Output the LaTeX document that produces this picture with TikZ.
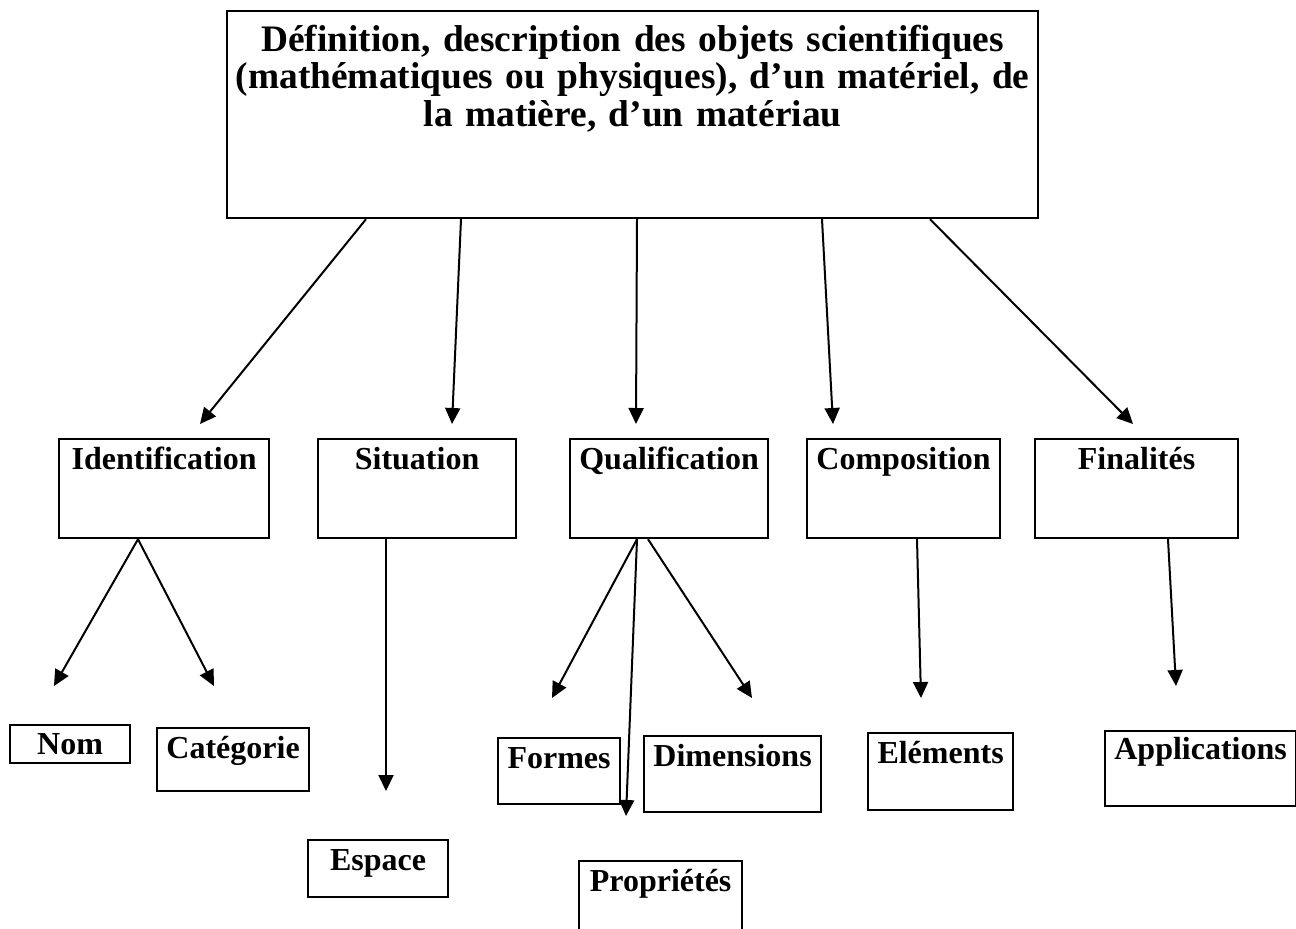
\documentclass[tikz,border=0pt]{standalone}
\usepackage{fontspec}
\setmainfont{Liberation Serif}
\usetikzlibrary{arrows.meta}
\tikzstyle{diagram}=[x=0.5pt, y=-0.5pt]
\tikzstyle{cbox}=[draw, line width=1.1pt, anchor=north west, inner sep=0pt, align=center, font=\fontsize{16}{19}\selectfont\bfseries]
\tikzstyle{head}=[cbox, text width=405.5pt, font=\fontsize{18.7}{18.75}\selectfont\bfseries]
\tikzstyle{edge}=[line width=1pt, -{Triangle[length=8pt, width=7.5pt]}]
\newcommand{\rowY}{438}
\newcommand{\rowTH}{15pt}
\newcommand{\rowTD}{34.5pt}

\begin{document}
\begin{tikzpicture}[diagram]
	\useasboundingbox (0,0) rectangle (1296,928);

	%The main box
	\draw (226,10) node[head, text height=20pt, text depth=83.5pt] (def)
		{Définition, description des objets scientifiques\\(mathématiques ou physiques), d’un matériel, de\\la matière, d’un matériau};

	%The second row
	\draw (58,\rowY) node[cbox, minimum width=105pt, text height=\rowTH, text depth=\rowTD] (ident) {Identification};
	\draw (317,\rowY) node[cbox, minimum width=99pt, text height=\rowTH, text depth=\rowTD] (situ) {Situation};
	\draw (569,\rowY) node[cbox, minimum width=99pt, text height=\rowTH, text depth=\rowTD] (qual) {Qualification};
	\draw (806,\rowY) node[cbox, minimum width=96.5pt, text height=\rowTH, text depth=\rowTD] (comp) {Composition};
	\draw (1034,\rowY) node[cbox, minimum width=101.5pt, text height=\rowTH, text depth=\rowTD] (fin) {Finalités};

	%The leaves
	\draw (9,724) node[cbox, minimum width=60pt, text height=14.5pt, text depth=4.5pt] (nom) {Nom};
	\draw (156,727) node[cbox, minimum width=76pt, text height=15pt, text depth=16.5pt] (cat) {Catégorie};
	\draw (307,839) node[cbox, minimum width=70pt, text height=15pt, text depth=13.5pt] (esp) {Espace};
	\draw (497,737) node[cbox, minimum width=61pt, text height=15pt, text depth=18pt] (form) {Formes};
	\draw (643,735) node[cbox, minimum width=88.5pt, text height=15pt, text depth=23pt] (dim) {Dimensions};
	\draw (578,860) node[cbox, minimum width=81.5pt, text height=15pt, text depth=35pt] (prop) {Propriétés};
	\draw (867,732) node[cbox, minimum width=72.5pt, text height=15pt, text depth=23.5pt] (elem) {Eléments};
	\draw (1104,730) node[cbox, minimum width=95.5pt, text height=14pt, text depth=23.5pt] (app) {Applications};

	%The arrow tips
	\coordinate (ident-in) at (200,424);
	\coordinate (situ-in) at (452,424);
	\coordinate (qual-in) at (636,424);
	\coordinate (comp-in) at (833,424);
	\coordinate (fin-in) at (1133,424);
	\coordinate (nom-in) at (54,686);
	\coordinate (cat-in) at (214,686);
	\coordinate (esp-in) at (386,791);
	\coordinate (form-in) at (552,698);
	\coordinate (prop-in) at (626,816);
	\coordinate (dim-in) at (752,698);
	\coordinate (elem-in) at (921,698);
	\coordinate (app-in) at (1176,686);

	%From the main box
	\draw[edge] (366,0 |- def.south) -- (ident-in);
	\draw[edge] (461,0 |- def.south) -- (situ-in);
	\draw[edge] (637,0 |- def.south) -- (qual-in);
	\draw[edge] (822,0 |- def.south) -- (comp-in);
	\draw[edge] (930,0 |- def.south) -- (fin-in);

	%From the second row
	\draw[edge] (138,0 |- ident.south) -- (nom-in);
	\draw[edge] (138,0 |- ident.south) -- (cat-in);
	\draw[edge] (386,0 |- situ.south) -- (esp-in);
	\draw[edge] (637,0 |- qual.south) -- (form-in);
	\draw[edge] (637,0 |- qual.south) -- (prop-in);
	\draw[edge] (648,0 |- qual.south) -- (dim-in);
	\draw[edge] (917,0 |- comp.south) -- (elem-in);
	\draw[edge] (1168,0 |- fin.south) -- (app-in);
\end{tikzpicture}
\end{document}
